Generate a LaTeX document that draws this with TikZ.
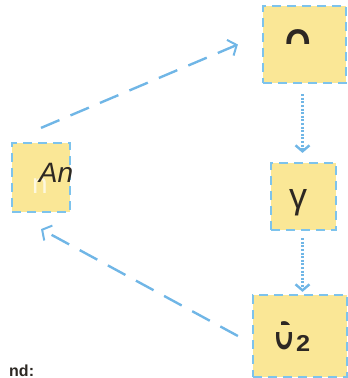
\documentclass[tikz,border=0pt]{standalone}
\usepackage{fontspec}
\setmainfont{Liberation Sans}
\usetikzlibrary{arrows.meta}
\definecolor{boxyellow}{RGB}{250,231,150}
\definecolor{boxblue}{RGB}{125,195,236}
\definecolor{arrowblue}{RGB}{112,182,230}
\definecolor{inkdark}{RGB}{45,40,35}
\tikzset{
  box/.style={draw=boxblue, fill=boxyellow, line width=2.2pt,
    dash pattern=on 9pt off 6pt, inner sep=0pt},
  lbl/.style={inner sep=0pt, text=inkdark},
  conn/.style={draw=arrowblue, line width=2.4pt, dash pattern=on 20pt off 12pt,
    -{Straight Barb[length=7pt,width=17pt,line width=2pt]}},
  vconn/.style={draw=arrowblue, line width=2.2pt, dash pattern=on 2pt off 1.6pt,
    -{Straight Barb[length=6pt,width=14pt,line width=2.4pt]}},
}
\begin{document}
\begin{tikzpicture}[x=1pt,y=-1pt]
\useasboundingbox (0,0) rectangle (348,378);
% boxes
\node[box, minimum width=83pt, minimum height=77pt] (t) at (304.5,44.5) {};
\node[box, minimum width=58pt, minimum height=69pt] (l) at (41,177.5) {};
\node[box, minimum width=65pt, minimum height=67pt] (m) at (303.5,196.5) {};
\node[box, minimum width=94pt, minimum height=82pt] (b) at (300,336) {};
% labels
\begin{scope}
  \clip (263,0) rectangle (346,43);
  \node[lbl, anchor=base west, font=\fontsize{40}{42}\selectfont\bfseries] (tl) at (285,57)
    {\scalebox{0.82}[1]{O}\raisebox{-6pt}{\fontsize{24}{26}\selectfont 1}};
\end{scope}
\node[lbl, text=white!70!boxyellow, font=\fontsize{28}{30}\selectfont] (ln) at (40,186) {n};
\node[lbl, font=\fontsize{28}{30}\selectfont\itshape] (la) at (56,173) {An};
\node[lbl, font=\fontsize{36}{38}\selectfont] (ml) at (298,203) {γ};
\begin{scope}
  \clip (253,332) rectangle (347,377) (295,295) rectangle (347,377) (281,318) rectangle (290,324);
  \node[lbl, anchor=base west, font=\fontsize{40}{42}\selectfont\bfseries] (bl) at (275,349)
    {\scalebox{0.58}[1]{O}\kern3pt\raisebox{-2pt}{\fontsize{23}{25}\selectfont\scalebox{1.1}[1]{2}}};
\end{scope}
% connectors
\draw[conn] ([yshift=14pt]l.north) -- ([xshift=-24pt]t.west);
\draw[conn] ([xshift=-14pt]b.west) -- ([yshift=-16pt]l.south);
\draw[vconn, shorten <=10pt, shorten >=9pt] ([xshift=-2pt]t.south) -- ([xshift=-1pt]m.north);
\draw[vconn, shorten <=7pt, shorten >=2pt] ([xshift=-1pt]m.south) -- ([xshift=-1pt]m.south |- b.north);
% caption (cut at the lower edge in the reference)
\node[anchor=base west, inner sep=0pt, text=inkdark, font=\fontsize{16}{18}\selectfont\bfseries] (cap) at (9,376) {nd:};
\end{tikzpicture}
\end{document}
